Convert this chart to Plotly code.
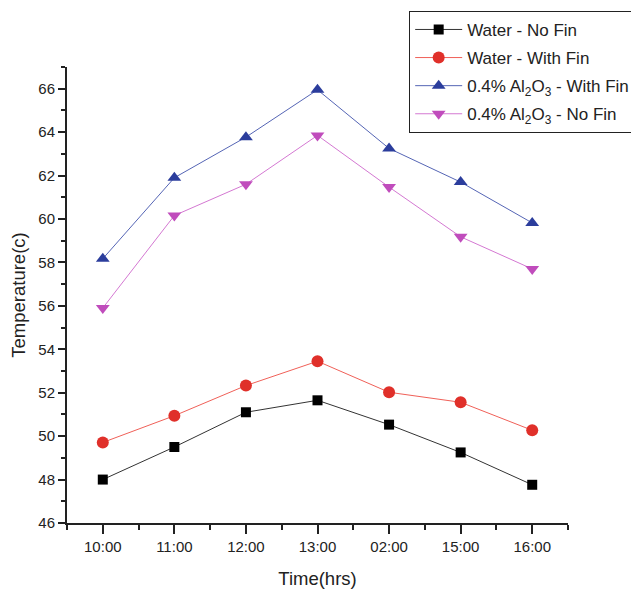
import plotly.graph_objects as go

times = ["10:00", "11:00", "12:00", "13:00", "02:00", "15:00", "16:00"]
water_no_fin = [48.0, 49.5, 51.1, 51.65, 50.53, 49.25, 47.76]
water_with_fin = [49.71, 50.94, 52.33, 53.45, 52.02, 51.56, 50.27]
al_with_fin = [58.17, 61.9, 63.77, 65.95, 63.25, 61.7, 59.82]
al_no_fin = [55.9, 60.16, 61.6, 63.85, 61.47, 59.18, 57.7]

x = list(range(len(times)))

series = [
    ("Water - No Fin", water_no_fin, "black", "#333333", "square"),
    ("Water - With Fin", water_with_fin, "#e0302a", "#f06058", "circle"),
    ("0.4% Al<sub>2</sub>O<sub>3</sub> - With Fin", al_with_fin, "#2b3d9c", "#5565b5", "triangle-up"),
    ("0.4% Al<sub>2</sub>O<sub>3</sub> - No Fin", al_no_fin, "#c04cbc", "#d478d2", "triangle-down"),
]

fig = go.Figure()
for i, (name, ys, mc, lc, sym) in enumerate(series):
    fig.add_trace(go.Scatter(
        x=x, y=ys, name=name, mode="lines+markers", legendgroup=f"g{i}",
        line=dict(color=lc, width=1),
        marker=dict(color=mc, symbol=sym, size=12 if sym != "square" else 10,
                    line=dict(width=0)),
    ))

font = "Liberation Sans, Arial, sans-serif"
fig.update_layout(
    width=639, height=591,
    margin=dict(l=59, r=79, t=59, b=76, autoexpand=False),
    paper_bgcolor="white", plot_bgcolor="white",
    font=dict(family=font, size=15, color="#222222"),
    showlegend=True,
    legend=dict(
        x=0.683, y=1.123, xanchor="left", yanchor="top",
        bordercolor="#222222", borderwidth=1,
        font=dict(size=17, color="#222222", family=font),
        tracegroupgap=3, itemwidth=47,
    ),
    xaxis=dict(
        range=[-0.5, 6.5], tickmode="array", tickvals=x, ticktext=times,
        showgrid=False, zeroline=False, showline=True, linecolor="#222222", linewidth=2,
        ticks="outside", ticklen=9, tickwidth=2, tickcolor="#222222",
        minor=dict(tickvals=[i - 0.5 for i in range(len(times) + 1)], ticklen=5,
                   tickwidth=2, tickcolor="#222222", ticks="outside", showgrid=False),
        title=dict(text="Time(hrs)", font=dict(size=18.5, family=font), standoff=18),
        tickfont=dict(size=15, family=font),
    ),
    yaxis=dict(
        range=[46, 67], dtick=2, tick0=46,
        showgrid=False, zeroline=False, showline=True, linecolor="#222222", linewidth=2,
        ticks="outside", ticklen=7, tickwidth=2, tickcolor="#222222",
        minor=dict(dtick=1, ticklen=4, tickwidth=2, tickcolor="#222222", ticks="outside", showgrid=False),
        title=dict(text="Temperature(c)", font=dict(size=18.5, family=font), standoff=12),
        tickfont=dict(size=15, family=font),
    ),
)

fig.write_html("out.html")
